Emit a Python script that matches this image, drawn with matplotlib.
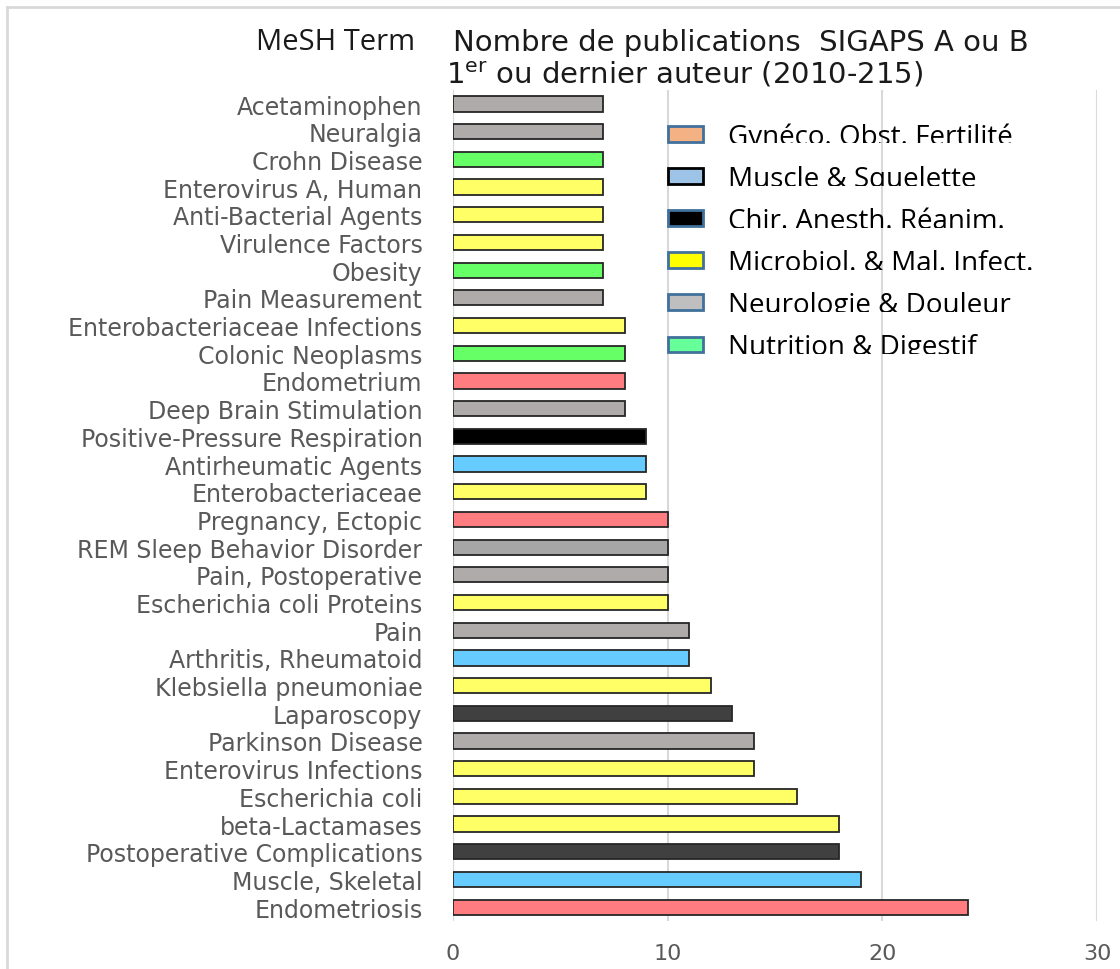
import numpy as np
import matplotlib
matplotlib.use('Agg')
import matplotlib.pyplot as plt
from matplotlib.patches import Patch
from matplotlib.lines import Line2D
from matplotlib.transforms import Bbox

# data, top to bottom as in the chart
terms = ['Acetaminophen', 'Neuralgia', 'Crohn Disease', 'Enterovirus A, Human',
         'Anti-Bacterial Agents', 'Virulence Factors', 'Obesity', 'Pain Measurement',
         'Enterobacteriaceae Infections', 'Colonic Neoplasms', 'Endometrium',
         'Deep Brain Stimulation', 'Positive-Pressure Respiration', 'Antirheumatic Agents',
         'Enterobacteriaceae', 'Pregnancy, Ectopic', 'REM Sleep Behavior Disorder',
         'Pain, Postoperative', 'Escherichia coli Proteins', 'Pain', 'Arthritis, Rheumatoid',
         'Klebsiella pneumoniae', 'Laparoscopy', 'Parkinson Disease', 'Enterovirus Infections',
         'Escherichia coli', 'beta-Lactamases', 'Postoperative Complications',
         'Muscle, Skeletal', 'Endometriosis']
counts = [7, 7, 7, 7, 7, 7, 7, 7, 8, 8, 8, 8, 9, 9, 9, 10, 10, 10, 10, 11, 11, 12, 13,
          14, 14, 16, 18, 18, 19, 24]
groups = ['neuro', 'neuro', 'nutri', 'micro', 'micro', 'micro', 'nutri', 'neuro',
          'micro', 'nutri', 'gyn', 'neuro', 'chir_b', 'muscle', 'micro', 'gyn', 'neuro2',
          'neuro', 'micro', 'neuro', 'muscle', 'micro', 'chir', 'neuro', 'micro', 'micro',
          'micro', 'chir', 'muscle', 'gyn']

bar_colors = {'neuro': '#AFABAB', 'neuro2': '#A6A6A6', 'nutri': '#66FF66', 'micro': '#FFFF66',
              'gyn': '#FF7C80', 'muscle': '#66CCFF', 'chir': '#404040', 'chir_b': '#000000'}

leg_labels = ['Gynéco. Obst. Fertilité', 'Muscle & Squelette', 'Chir. Anesth. Réanim.',
              'Microbiol. & Mal. Infect.', 'Neurologie & Douleur', 'Nutrition & Digestif']
leg_faces = ['#F4B183', '#9DC3E6', '#000000', '#FFFF00', '#BFBFBF', '#66FF99']
leg_edges = ['#41719C', '#000000', '#41719C', '#41719C', '#41719C', '#41719C']

fig = plt.figure(figsize=(11.2, 9.7), dpi=100)
ax = fig.add_axes([0.4045, 0.0495, 0.575, 0.8565])

y = np.arange(len(terms))
ax.barh(y, counts, height=0.55, color=[bar_colors[g] for g in groups],
        edgecolor='#262626', linewidth=1.3, zorder=3)
ax.set_ylim(len(terms) - 0.5, -0.5)
ax.set_xlim(0, 30)
ax.set_yticks(y)
ax.set_yticklabels(terms, fontsize=17, color='#595959', family='DejaVu Sans')
ax.set_xticks([0, 10, 20, 30])
ax.tick_params(axis='x', length=0, pad=16, labelsize=16, labelcolor='#595959')
ax.tick_params(axis='y', length=0, pad=22)
ax.grid(axis='x', color='#D9D9D9', linewidth=1.5, zorder=0)
for s in ax.spines.values():
    s.set_visible(False)
ax.axvline(0, color='#D9D9D9', linewidth=1.5, zorder=1)

# titles
fig.text(415 / 1120, 1 - 43 / 970, 'MeSH Term', ha='right', va='center',
         fontsize=21, family='Open Sans', color='#1a1a1a')
fig.text(453 / 1120, 1 - 43 / 970, 'Nombre de publications  SIGAPS A ou B', ha='left',
         va='center', fontsize=21, family='DejaVu Sans', color='#1a1a1a')
fig.text(446 / 1120, 1 - 75 / 970, '1$^{\\mathrm{er}}$ ou dernier auteur (2010-215)', ha='left',
         va='center', fontsize=21, family='DejaVu Sans', color='#1a1a1a')

# legend
handles = [Patch(facecolor=f, edgecolor=e, linewidth=2) for f, e in zip(leg_faces, leg_edges)]
leg = fig.legend(handles, leg_labels, loc='upper left', bbox_to_anchor=(668 / 1120, 1 - 123 / 970),
                 frameon=False, prop={'family': 'Open Sans', 'size': 20}, handlelength=1.27,
                 handleheight=0.5, labelspacing=0.51, handletextpad=0.9, borderpad=0,
                 borderaxespad=0)

# slide border
fig.add_artist(Line2D([7 / 1120, 7 / 1120], [0, 1 - 8 / 970], color='#D9D9D9', lw=2))
fig.add_artist(Line2D([7 / 1120, 1], [1 - 8 / 970, 1 - 8 / 970], color='#D9D9D9', lw=2))

# the legend texts are cut off at the bottom in the original
fig.canvas.draw()
for t in leg.get_texts():
    bb = t.get_window_extent()
    t.set_clip_box(Bbox.from_extents(bb.x0 - 5, bb.y0 + 0.25 * bb.height, bb.x1 + 5, bb.y1 + 5))
    t.set_clip_on(True)

fig.savefig('out.png', dpi=100)
